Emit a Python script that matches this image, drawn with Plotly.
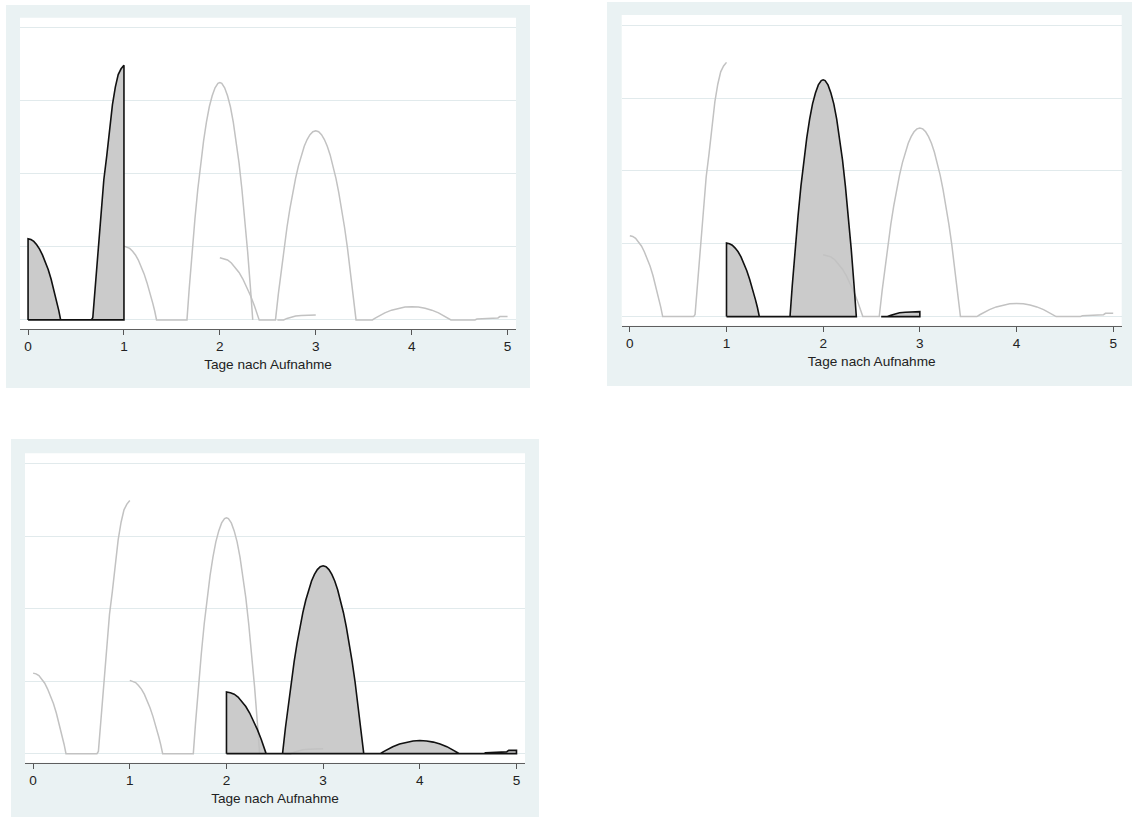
import plotly.graph_objects as go

# Density curves by day window (x: days after admission, y: density units).
# None marks a break in the curve.
s1_x = [0.00, 0.03, 0.06, 0.09, 0.12, 0.15, 0.18, 0.21, 0.24, 0.27, 0.30, 0.32, 0.34,
        0.50, 0.66, 0.675, 0.70, 0.73, 0.76, 0.79, 0.82, 0.85, 0.88, 0.91, 0.94, 0.97, 1.00]
s1_y = [1.11, 1.10, 1.075, 1.03, 0.97, 0.89, 0.80, 0.69, 0.56, 0.41, 0.25, 0.13, 0.00,
        0.00, 0.00, 0.03, 0.44, 0.91, 1.42, 1.92, 2.24, 2.59, 2.95, 3.19, 3.36, 3.44, 3.49]

s2_x = [1.00, 1.03, 1.06, 1.09, 1.12, 1.15, 1.18, 1.21, 1.24, 1.27, 1.30, 1.32, 1.34,
        1.50, 1.657, 1.68, 1.71, 1.74, 1.77, 1.80, 1.83, 1.86, 1.89, 1.92, 1.95, 1.98,
        2.00, 2.02, 2.05, 2.08, 2.11, 2.14, 2.17, 2.20, 2.23, 2.26, 2.29, 2.32, 2.343,
        None, 2.60, 2.665, 2.70, 2.74, 2.79, 2.85, 2.92, 3.00]
s2_y = [1.01, 1.00, 0.98, 0.94, 0.89, 0.82, 0.73, 0.63, 0.51, 0.38, 0.23, 0.125, 0.00,
        0.00, 0.00, 0.42, 0.93, 1.38, 1.79, 2.15, 2.45, 2.71, 2.92, 3.07, 3.18, 3.24,
        3.25, 3.24, 3.18, 3.07, 2.92, 2.71, 2.45, 2.15, 1.79, 1.38, 0.93, 0.42, 0.00,
        None, 0.00, 0.00, 0.02, 0.037, 0.052, 0.06, 0.065, 0.068]

s3_x = [2.00, 2.04, 2.08, 2.12, 2.16, 2.20, 2.24, 2.28, 2.32, 2.36, 2.39, 2.41, 2.50,
        2.58, 2.61, 2.64, 2.67, 2.70, 2.73, 2.76, 2.79, 2.82, 2.85, 2.88, 2.91, 2.94, 2.97,
        3.00, 3.03, 3.06, 3.09, 3.12, 3.15, 3.18, 3.21, 3.24, 3.27, 3.30, 3.33, 3.36, 3.39,
        3.42, 3.50, 3.59, 3.62, 3.65, 3.72, 3.79, 3.86, 3.93, 4.00, 4.07, 4.14, 4.21, 4.28,
        4.35, 4.38, 4.41, 4.55, 4.66, 4.68, 4.80, 4.90, 4.92, 5.00]
s3_y = [0.85, 0.84, 0.82, 0.78, 0.72, 0.65, 0.56, 0.45, 0.33, 0.195, 0.08, 0.00, 0.00,
        0.00, 0.357, 0.687, 0.991, 1.269, 1.520, 1.744, 1.943, 2.114, 2.260, 2.379, 2.471,
        2.537, 2.577, 2.59, 2.577, 2.537, 2.471, 2.379, 2.260, 2.114, 1.943, 1.744, 1.520,
        1.269, 0.991, 0.687, 0.357, 0.00, 0.00, 0.00, 0.025, 0.049, 0.096, 0.133, 0.159,
        0.175, 0.18, 0.175, 0.159, 0.133, 0.096, 0.049, 0.025, 0.00, 0.00, 0.00, 0.012,
        0.018, 0.026, 0.045, 0.045]

x_ticks = [0, 1, 2, 3, 4, 5]
y_grid = [0, 1, 2, 3, 4]
x_title = "Tage nach Aufnahme"

series = [(s1_x, s1_y), (s2_x, s2_y), (s3_x, s3_y)]

W, H = 1132, 818
BG_PANEL = "#eaf2f3"
GRID = "#e1eaec"
GRAY_LINE = "#c2c2c2"
FILL = "#cbcbcb"
FONT = "Liberation Sans, Arial, sans-serif"
TEXT_SIZE = 13.6

# pixel boxes: outer panel region and inner plot region (x0, y0, x1, y1)
panels = [
    dict(focus=0, box=(6, 5, 530, 388), plot=(20, 17.7, 516, 329)),
    dict(focus=1, box=(607, 2, 1132, 386), plot=(621.7, 15, 1121.7, 325.7)),
    dict(focus=2, box=(11, 439, 539, 817), plot=(25, 453.3, 525, 762.7)),
]


def px_x(v):
    return v / W


def px_y(v):
    return 1 - v / H


def outline(xs, ys):
    """Closed outline (curve + baseline) for each unbroken piece of a curve."""
    ox, oy = [], []
    seg = []
    for x, y in list(zip(xs, ys)) + [(None, None)]:
        if x is None:
            if seg:
                ox += [seg[0][0]] + [p[0] for p in seg] + [seg[-1][0], seg[0][0], None]
                oy += [0] + [p[1] for p in seg] + [0, 0, None]
            seg = []
        else:
            seg.append((x, y))
    return ox, oy


fig = go.Figure()
shapes = []
layout_axes = {}

for i, p in enumerate(panels):
    n = "" if i == 0 else str(i + 1)
    xa, ya = "x" + n, "y" + n
    bx0, by0, bx1, by1 = p["box"]
    px0, py0, px1, py1 = p["plot"]
    shapes.append(dict(type="rect", xref="paper", yref="paper", layer="below",
                       x0=px_x(bx0), x1=px_x(bx1), y0=px_y(by1), y1=px_y(by0),
                       fillcolor=BG_PANEL, line=dict(width=0)))
    shapes.append(dict(type="rect", xref="paper", yref="paper", layer="below",
                       x0=px_x(px0), x1=px_x(px1), y0=px_y(py1), y1=px_y(py0),
                       fillcolor="white", line=dict(width=0)))

    fx, fy = series[p["focus"]]
    fig.add_trace(go.Scatter(x=fx, y=fy, xaxis=xa, yaxis=ya, mode="lines",
                             fill="tozeroy", fillcolor=FILL, line=dict(width=0),
                             connectgaps=False, hoverinfo="skip", showlegend=False))
    for j, (sx, sy) in enumerate(series):
        if j == p["focus"]:
            continue
        fig.add_trace(go.Scatter(x=sx, y=sy, xaxis=xa, yaxis=ya, mode="lines",
                                 line=dict(color=GRAY_LINE, width=1.5),
                                 connectgaps=False, showlegend=False))
    ox, oy = outline(fx, fy)
    fig.add_trace(go.Scatter(x=ox, y=oy, xaxis=xa, yaxis=ya, mode="lines",
                             line=dict(color="#111111", width=1.6),
                             connectgaps=False, showlegend=False))

    layout_axes["xaxis" + n] = dict(
        domain=[px_x(px0), px_x(px1)], anchor=ya, range=[-0.084, 5.088],
        tickvals=x_ticks, ticks="outside", ticklen=5, tickwidth=1, tickcolor="#555555",
        showline=True, linecolor="#5e5e5e", linewidth=1, showgrid=False, zeroline=False,
        tickfont=dict(family=FONT, size=TEXT_SIZE, color="#222222"),
        title=dict(text=x_title, font=dict(family=FONT, size=TEXT_SIZE, color="#222222"),
                   standoff=6),
        automargin=False, fixedrange=True)
    layout_axes["yaxis" + n] = dict(
        domain=[px_y(py1), px_y(py0)], anchor=xa, range=[-0.125, 4.14],
        tickvals=y_grid, showticklabels=False, ticks="", showgrid=True,
        gridcolor=GRID, gridwidth=1.2, zeroline=False, showline=False,
        automargin=False, fixedrange=True)

fig.update_layout(
    width=W, height=H,
    margin=dict(l=0, r=0, t=0, b=0, pad=0),
    paper_bgcolor="white", plot_bgcolor="rgba(0,0,0,0)",
    shapes=shapes, showlegend=False,
    font=dict(family=FONT),
    **layout_axes,
)

fig.write_html("out.html", config=dict(displayModeBar=False))
